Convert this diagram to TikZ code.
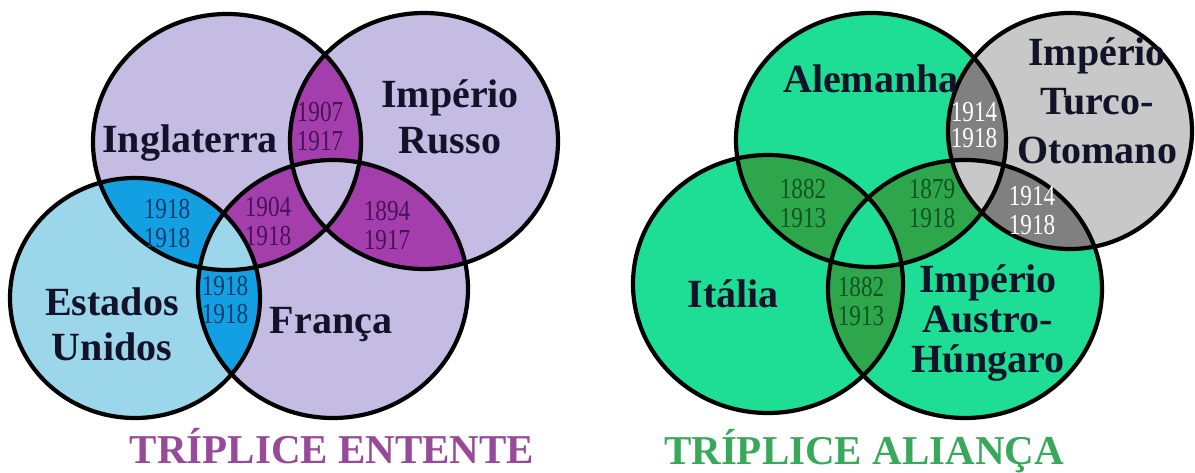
\documentclass[tikz,border=0pt]{standalone}
\usepackage{fontspec}
\setmainfont{Liberation Serif}
\newfontfamily\yearfont[FakeStretch=0.8]{Liberation Serif}
\usetikzlibrary{calc}

\definecolor{cLavender}{RGB}{196,188,226}
\definecolor{cSkyBlue}{RGB}{156,214,234}
\definecolor{cLensBlue}{RGB}{18,160,226}
\definecolor{cLensPurple}{RGB}{164,62,172}
\definecolor{cMint}{RGB}{30,222,150}
\definecolor{cLensGreen}{RGB}{46,166,76}
\definecolor{cLightGray}{RGB}{200,200,200}
\definecolor{cLensGray}{RGB}{128,128,128}
\definecolor{cTxtPurple}{RGB}{72,18,88}
\definecolor{cTxtBlue}{RGB}{18,58,106}
\definecolor{cTxtGreen}{RGB}{16,84,36}
\definecolor{cTxtDark}{RGB}{18,18,40}
\definecolor{cTitlePurple}{RGB}{152,74,154}
\definecolor{cTitleGreen}{RGB}{58,168,90}

\tikzset{
  ring/.style={line width=4.2pt, draw=black},
  country/.style={font=\fontsize{40}{#1}\selectfont\bfseries, align=center, anchor=base, inner sep=0pt, text=cTxtDark},
  years/.style={font=\yearfont\fontsize{29}{#1}\selectfont, align=center, inner sep=0pt},
  headline/.style={font=\fontsize{41}{41}\selectfont\bfseries, anchor=base, inner sep=0pt}
}

\begin{document}
\begin{tikzpicture}[x=1pt, y=-1pt]
       \useasboundingbox (0,0) rectangle (1195,472);
       %設定各圓的圓心
       \coordinate (cIngPt) at (227,142);
       \coordinate (cRusPt) at (424,141);
       \coordinate (cUSAPt) at (135,298);
       \coordinate (cFraPt) at (333,289);
       \coordinate (cAlePt) at (871,140);
       \coordinate (cTurPt) at (1070,131);
       \coordinate (cItaPt) at (768,284);
       \coordinate (cAusPt) at (965,289);

       \def\pIng{(cIngPt) ellipse [x radius=134, y radius=128]}
       \def\pRus{(cRusPt) ellipse [x radius=134, y radius=128]}
       \def\pUSA{(cUSAPt) ellipse [x radius=125, y radius=120]}
       \def\pFra{(cFraPt) ellipse [x radius=135, y radius=129]}
       \def\pAle{(cAlePt) ellipse [x radius=135, y radius=127]}
       \def\pTur{(cTurPt) ellipse [x radius=122, y radius=118]}
       \def\pIta{(cItaPt) ellipse [x radius=135, y radius=129]}
       \def\pAus{(cAusPt) ellipse [x radius=137, y radius=129]}

       %填滿各圓
       \fill[cLavender] \pIng;
       \fill[cLavender] \pRus;
       \fill[cLavender] \pFra;
       \fill[cSkyBlue] \pUSA;
       \fill[cMint] \pAle;
       \fill[cMint] \pIta;
       \fill[cMint] \pAus;
       \fill[cLightGray] \pTur;

       %兩兩交集
       \begin{scope}
         \clip \pIng;
         \fill[cLensPurple] \pRus;
         \fill[cLensPurple] \pFra;
         \fill[cLensBlue] \pUSA;
       \end{scope}
       \begin{scope}
         \clip \pRus;
         \fill[cLensPurple] \pFra;
       \end{scope}
       \begin{scope}
         \clip \pFra;
         \fill[cLensBlue] \pUSA;
       \end{scope}
       \begin{scope}
         \clip \pAle;
         \fill[cLensGreen] \pIta;
         \fill[cLensGreen] \pAus;
         \fill[cLensGray] \pTur;
       \end{scope}
       \begin{scope}
         \clip \pIta;
         \fill[cLensGreen] \pAus;
       \end{scope}
       \begin{scope}
         \clip \pAus;
         \fill[cLensGray] \pTur;
       \end{scope}

       %三者交集
       \begin{scope}
         \clip \pIng; \clip \pRus;
         \fill[cLavender] \pFra;
       \end{scope}
       \begin{scope}
         \clip \pIng; \clip \pFra;
         \fill[cSkyBlue] \pUSA;
       \end{scope}
       \begin{scope}
         \clip \pAle; \clip \pIta;
         \fill[cMint] \pAus;
       \end{scope}
       \begin{scope}
         \clip \pAle; \clip \pAus;
         \fill[cLightGray] \pTur;
       \end{scope}

       %畫出圓周
       \draw[ring] \pIng;
       \draw[ring] \pRus;
       \draw[ring] \pUSA;
       \draw[ring] \pFra;
       \draw[ring] \pAle;
       \draw[ring] \pTur;
       \draw[ring] \pIta;
       \draw[ring] \pAus;

       %年份
       \foreach \n/\p/\t/\c/\s in
       {yIngRus/{320,126}/{1907\\1917}/cTxtPurple/29,
        yIngUSA/{167,223}/{1918\\1918}/cTxtBlue/29,
        yIngFra/{268,221}/{1904\\1918}/cTxtPurple/29,
        yRusFra/{387,225}/{1894\\1917}/cTxtPurple/29,
        yUSAFra/{225,300}/{1918\\1918}/cTxtBlue/28,
        yAleTur/{974,125}/{1914\\1918}/white/26,
        yAleIta/{803,203}/{1882\\1913}/cTxtGreen/29,
        yAleAus/{932,203}/{1879\\1918}/cTxtGreen/29,
        yTurAus/{1032,211}/{1914\\1918}/white/29,
        yItaAus/{861,301}/{1882\\1913}/cTxtGreen/29
       }
       {
           \node[years=\s, text=\c] (\n) at (\p) {\t};
       };

       %國名(多行者以最後一行的基線定位)
       \node[country=40] (nIng) at (190,152) {Inglaterra};
       \node[country=46] (nRus) at (450,153) {Império\\Russo};
       \node[country=45] (nUSA) at (112,360) {Estados\\Unidos};
       \node[country=40] (nFra) at (331,333) {França};
       \node[country=40] (nAle) at (871,92) {Alemanha};
       \node[country=49] (nTur) at (1097,163) {Império\\Turco-\\Otomano};
       \node[country=40] (nIta) at (733,307) {Itália};
       \node[country=40] (nAus) at (988,372) {Império\\Austro-\\Húngaro};

       \node[headline, text=cTitlePurple] (tEntente) at (332,463) {TRÍPLICE ENTENTE};
       \node[headline, text=cTitleGreen] (tAlianca) at (864,464) {TRÍPLICE ALIANÇA};
\end{tikzpicture}
\end{document}
